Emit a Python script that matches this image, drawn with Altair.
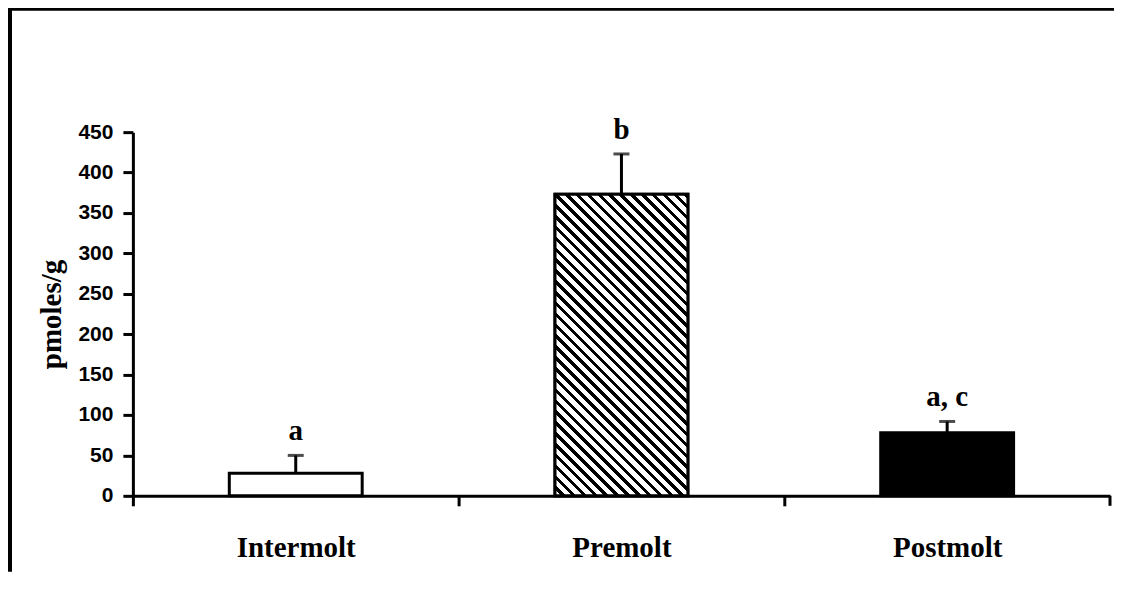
import altair as alt
import pandas as pd

# ---- data ----
cats = ["Intermolt", "Premolt", "Postmolt"]
values = [28, 373, 78]
errors = [22, 50, 14]
letters = ["a", "b", "a, c"]
y_ticks = [0, 50, 100, 150, 200, 250, 300, 350, 400, 450]
y_title = "pmoles/g"

# ---- layout ----
W_PLOT, H_PLOT = 978, 364
Y_MAX = 450
PAD_IN, PAD_OUT = 0.592, 0.296
PAD = {"left": 125, "top": 124, "right": 4, "bottom": 76}

df = pd.DataFrame({"cat": cats, "value": values, "err": errors, "label": letters})
df["hi"] = df["value"] + df["err"]

# band geometry (for the hatch gradient and tick offsets)
step = W_PLOT / (len(cats) - PAD_IN + 2 * PAD_OUT)
bw = step * (1 - PAD_IN)
bh = values[1] / Y_MAX * H_PLOT
s = (bw + bh) / (bw ** 2 + bh ** 2)
gx2 = s * bw
gy2 = 1 - s * bh
n_stripes = 40
frac_black = 0.42
stops = []
for i in range(n_stripes):
    a = i / n_stripes
    b = (i + 1 - frac_black) / n_stripes
    c = (i + 1) / n_stripes
    stops += [
        alt.GradientStop(offset=a, color="white"),
        alt.GradientStop(offset=b, color="white"),
        alt.GradientStop(offset=b, color="black"),
        alt.GradientStop(offset=c, color="black"),
    ]
hatch = alt.LinearGradient(gradient="linear", stops=stops, x1=0, y1=1, x2=gx2, y2=gy2)

outer_off = PAD_OUT * step

x_enc = alt.X(
    "cat:N",
    sort=cats,
    scale=alt.Scale(paddingInner=PAD_IN, paddingOuter=PAD_OUT),
    axis=alt.Axis(
        title=None, labelAngle=0,
        labelFont="Liberation Serif", labelFontWeight="bold", labelFontSize=29,
        labelColor="black", labelBaseline="alphabetic", labelPadding=51,
        domainColor="black", domainWidth=3,
        tickColor="black", tickWidth=3, tickSize=10,
        bandPosition=0, tickOffset=-outer_off, labelOffset=outer_off,
        grid=False,
    ),
)
y_enc = alt.Y(
    "value:Q",
    scale=alt.Scale(domain=[0, Y_MAX], nice=False),
    axis=alt.Axis(
        values=y_ticks, title=y_title,
        titleFont="Liberation Serif", titleFontWeight="bold", titleFontSize=29,
        titleColor="black", titleAngle=-90, titleX=-72, titleY=H_PLOT / 2,
        titleAlign="center", titleBaseline="alphabetic",
        labelFont="Liberation Sans", labelFontWeight="bold", labelFontSize=21,
        labelColor="black", labelPadding=10,
        domainColor="black", domainWidth=3,
        tickColor="black", tickWidth=3, tickSize=10,
        grid=False,
    ),
)

base = alt.Chart(df)

bars = base.mark_bar(stroke="black", strokeWidth=3).encode(
    x=x_enc,
    y=y_enc,
    fill=alt.Fill("cat:N", scale=alt.Scale(domain=cats, range=["white", "white", "black"]), legend=None),
)

hatched = base.transform_filter(alt.datum.cat == "Premolt").mark_bar(
    fill=hatch, stroke="black", strokeWidth=3
).encode(x=x_enc, y=y_enc)

err_line = base.mark_rule(color="black", strokeWidth=3).encode(
    x=x_enc, y=y_enc, y2="hi:Q"
)
err_cap = base.mark_tick(color="black", thickness=3, size=16).encode(
    x=x_enc, y=alt.Y("hi:Q")
)
labels = base.mark_text(
    font="Liberation Serif", fontWeight="bold", fontSize=29,
    baseline="alphabetic", dy=-15, color="black"
).encode(x=x_enc, y=alt.Y("hi:Q"), text="label:N")

one = pd.DataFrame({"k": [0]})
end_tick = alt.Chart(one).mark_rule(color="black", strokeWidth=3).encode(
    x=alt.value(W_PLOT), y=alt.value(H_PLOT), y2=alt.value(H_PLOT + 10)
)
frame_top = alt.Chart(one).mark_rule(color="black", strokeWidth=4).encode(
    x=alt.value(-124.5), x2=alt.value(W_PLOT + PAD["right"]), y=alt.value(-123.5)
)
frame_left = alt.Chart(one).mark_rule(color="black", strokeWidth=4).encode(
    x=alt.value(-123), y=alt.value(-125), y2=alt.value(H_PLOT + PAD["bottom"])
)

chart = alt.layer(
    bars, hatched, err_line, err_cap, labels, end_tick, frame_top, frame_left
).properties(
    width=W_PLOT, height=H_PLOT,
    autosize="none",
    padding=PAD,
).configure_view(strokeWidth=0)

chart.save("out.html", embed_options={"renderer": "svg", "actions": False})
